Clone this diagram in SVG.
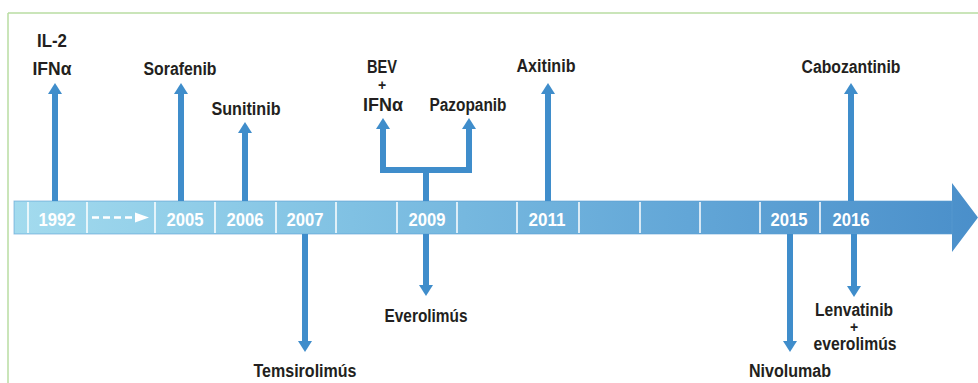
<svg xmlns="http://www.w3.org/2000/svg" width="978" height="383" viewBox="0 0 978 383">
<defs>
<linearGradient id="barg" x1="14" y1="0" x2="978" y2="0" gradientUnits="userSpaceOnUse">
<stop offset="0" stop-color="#a3dbee"/>
<stop offset="0.35" stop-color="#80c1e3"/>
<stop offset="0.7" stop-color="#62a6d7"/>
<stop offset="1" stop-color="#4a8fca"/>
</linearGradient>
<marker id="ah" viewBox="0 0 11 14" markerUnits="userSpaceOnUse" markerWidth="11" markerHeight="14" refX="1" refY="7" orient="auto-start-reverse">
<path d="M0,0 L11,7 L0,14 Z" fill="#3f8dcb"/>
</marker>
<style>
.lbl{font-family:"Liberation Sans",Arial,sans-serif;font-weight:bold;font-size:18px;fill:#231f20;text-anchor:middle}
.plus{font-family:"Liberation Sans",Arial,sans-serif;font-weight:bold;font-size:14px;fill:#231f20;text-anchor:middle}
.yr{font-family:"Liberation Sans",Arial,sans-serif;font-weight:bold;font-size:19px;fill:#ffffff;text-anchor:middle}
.arr{stroke:#3f8dcb;stroke-width:6;fill:none;marker-end:url(#ah)}
.stem{stroke:#3f8dcb;stroke-width:6;fill:none}
.div{stroke:#ffffff;stroke-width:1.5}
</style>
</defs>
<g id="frame">
<line x1="8" y1="13" x2="978" y2="13" stroke="#b9dda2" stroke-width="1.5"/>
<line x1="8" y1="13" x2="8" y2="383" stroke="#b9dda2" stroke-width="1.5"/>
</g>
<g id="timeline">
<path d="M14,201 H952 V183 L978,217.5 L952,252 V234 H14 Z" fill="url(#barg)"/>
<rect x="14" y="201" width="938" height="33" fill="none" stroke="#5a9fd2" stroke-width="1" opacity="0.6"/>
<g class="div">
<line x1="28" y1="202" x2="28" y2="233"/>
<line x1="87" y1="202" x2="87" y2="233"/>
<line x1="155" y1="202" x2="155" y2="233"/>
<line x1="215" y1="202" x2="215" y2="233"/>
<line x1="276" y1="202" x2="276" y2="233"/>
<line x1="336" y1="202" x2="336" y2="233"/>
<line x1="397" y1="202" x2="397" y2="233"/>
<line x1="457" y1="202" x2="457" y2="233"/>
<line x1="517" y1="202" x2="517" y2="233"/>
<line x1="579" y1="202" x2="579" y2="233"/>
<line x1="640" y1="202" x2="640" y2="233"/>
<line x1="700" y1="202" x2="700" y2="233"/>
<line x1="760" y1="202" x2="760" y2="233"/>
<line x1="820" y1="202" x2="820" y2="233"/>
</g>
<line x1="92" y1="217.5" x2="137" y2="217.5" stroke="#ffffff" stroke-width="2.5" stroke-dasharray="7 4"/>
<polygon points="135,212.5 149,217.5 135,222.5" fill="#ffffff"/>
<text class="yr" x="57" y="226" textLength="37" lengthAdjust="spacingAndGlyphs">1992</text>
<text class="yr" x="185" y="226" textLength="37" lengthAdjust="spacingAndGlyphs">2005</text>
<text class="yr" x="245" y="226" textLength="37" lengthAdjust="spacingAndGlyphs">2006</text>
<text class="yr" x="305" y="226" textLength="37" lengthAdjust="spacingAndGlyphs">2007</text>
<text class="yr" x="427" y="226" textLength="37" lengthAdjust="spacingAndGlyphs">2009</text>
<text class="yr" x="547" y="226" textLength="37" lengthAdjust="spacingAndGlyphs">2011</text>
<text class="yr" x="789" y="226" textLength="37" lengthAdjust="spacingAndGlyphs">2015</text>
<text class="yr" x="851" y="226" textLength="37" lengthAdjust="spacingAndGlyphs">2016</text>
</g>
<g id="connectors">
<line class="arr" x1="55" y1="201" x2="55" y2="93"/>
<line class="arr" x1="181" y1="201" x2="181" y2="93"/>
<line class="arr" x1="245" y1="201" x2="245" y2="132"/>
<line class="arr" x1="548" y1="201" x2="548" y2="93"/>
<line class="arr" x1="851" y1="201" x2="851" y2="93"/>
<line class="stem" x1="426" y1="201" x2="426" y2="170"/>
<path d="M383,128 V170 H469 V128" style="stroke:#3f8dcb;stroke-width:6;fill:none;marker-start:url(#ah);marker-end:url(#ah)"/>
<line class="arr" x1="305" y1="234" x2="305" y2="342"/>
<line class="arr" x1="426" y1="234" x2="426" y2="286"/>
<line class="arr" x1="790" y1="234" x2="790" y2="342"/>
<line class="arr" x1="854" y1="234" x2="854" y2="287"/>
</g>
<g id="n-il2">
<text class="lbl" x="52" y="47" textLength="30" lengthAdjust="spacingAndGlyphs">IL-2</text>
<text class="lbl" x="52" y="75" textLength="39" lengthAdjust="spacingAndGlyphs">IFNα</text>
</g>
<g id="n-sorafenib"><text class="lbl" x="180" y="75" textLength="73" lengthAdjust="spacingAndGlyphs">Sorafenib</text></g>
<g id="n-sunitinib"><text class="lbl" x="246" y="115" textLength="69" lengthAdjust="spacingAndGlyphs">Sunitinib</text></g>
<g id="n-bev">
<text class="lbl" x="382" y="73" textLength="30" lengthAdjust="spacingAndGlyphs">BEV</text>
<text class="plus" x="382" y="90">+</text>
<text class="lbl" x="383" y="111" textLength="40" lengthAdjust="spacingAndGlyphs">IFNα</text>
</g>
<g id="n-pazopanib"><text class="lbl" x="468" y="111" textLength="77" lengthAdjust="spacingAndGlyphs">Pazopanib</text></g>
<g id="n-axitinib"><text class="lbl" x="546" y="72" textLength="59" lengthAdjust="spacingAndGlyphs">Axitinib</text></g>
<g id="n-cabozantinib"><text class="lbl" x="851" y="73" textLength="99" lengthAdjust="spacingAndGlyphs">Cabozantinib</text></g>
<g id="n-temsirolimus"><text class="lbl" x="305" y="377" textLength="103" lengthAdjust="spacingAndGlyphs">Temsirolimús</text></g>
<g id="n-everolimus"><text class="lbl" x="426" y="322" textLength="83" lengthAdjust="spacingAndGlyphs">Everolimús</text></g>
<g id="n-nivolumab"><text class="lbl" x="790" y="377" textLength="82" lengthAdjust="spacingAndGlyphs">Nivolumab</text></g>
<g id="n-lenvatinib">
<text class="lbl" x="854" y="316" textLength="78" lengthAdjust="spacingAndGlyphs">Lenvatinib</text>
<text class="plus" x="854" y="332">+</text>
<text class="lbl" x="855" y="350" textLength="83" lengthAdjust="spacingAndGlyphs">everolimús</text>
</g>
</svg>
